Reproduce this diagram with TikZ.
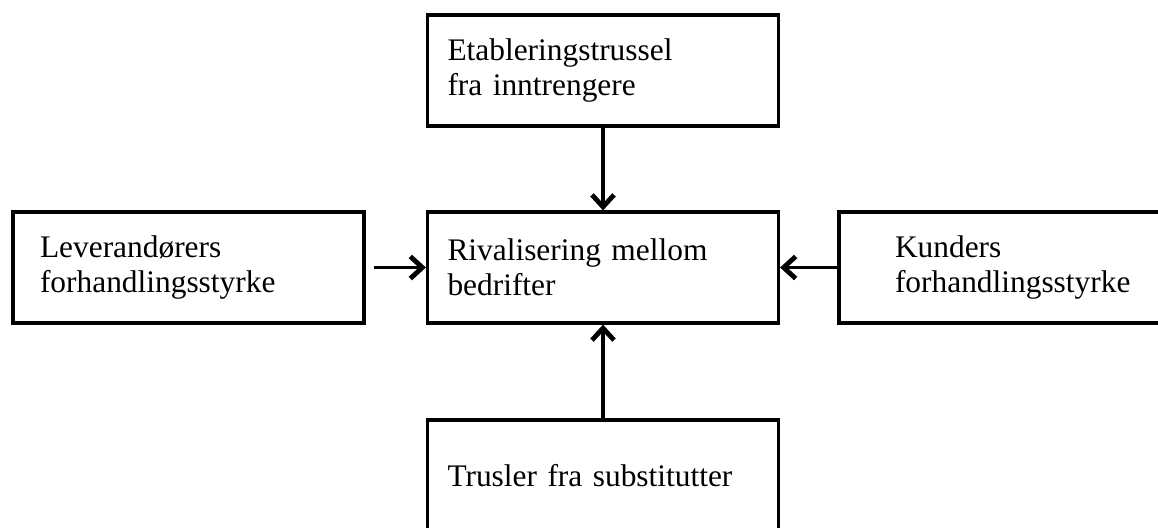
\documentclass[tikz,border=0pt]{standalone}
\usepackage{fontspec}
\setmainfont{Liberation Serif}
\usepackage{tikz}
\usetikzlibrary{arrows.meta}

\begin{document}
\begin{tikzpicture}[x=0.5pt,y=-0.5pt]
            \tikzset{Box/.style={%
                    shape=rectangle,%
                    draw=black,%
                    line width=1.6pt,%
                    minimum height=55.5pt,%
                    align=left,%
                    font=\fontsize{15.7}{17.5}\selectfont,%
                },
                Force/.style={Box,inner xsep=10pt,text width=155.5pt},
                Arrow/.style={-{Straight Barb[length=6pt,width=11pt,line width=2.4pt]},line width=1.6pt}}

                \useasboundingbox (0,0) rectangle (1158,527);
                \clip (0,0) rectangle (1158,527);

                \node[Force] (etab) at (603,70.5) {Etableringstrussel\\fra inntrengere};
                \node[Force] (rival) at (603,267.5) {Rivalisering mellom\\bedrifter};
                \node[Box,inner xsep=13.5pt,text width=148.5pt] (lev) at (188.5,267.5) {Leverandørers\\forhandlingsstyrke};
                \node[Box,inner xsep=28pt,text width=119.5pt] (kund) at (1014.5,267.5) {Kunders\\forhandlingsstyrke};
                \node[Force] (trus) at (603,475.5) {Trusler fra substitutter};

                \draw[Arrow] (etab) -- (rival);
                \draw[Arrow,shorten <=4pt] (lev) -- (rival);
                \draw[Arrow] (kund) -- (rival);
                \draw[Arrow] (trus) -- (rival);
        \end{tikzpicture}
\end{document}
